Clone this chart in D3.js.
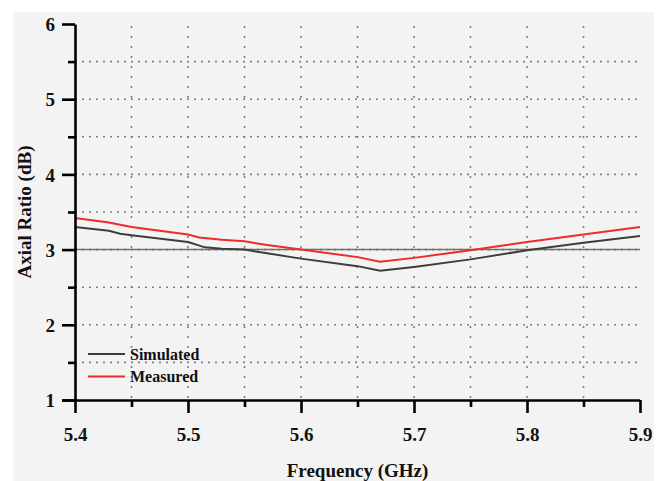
<!DOCTYPE html>
<html><head><meta charset="utf-8">
<script src="https://cdn.jsdelivr.net/npm/d3@7"></script>
<style>body{margin:0;background:#fff}svg{display:block}</style>
</head><body><svg id="c" width="662" height="481"></svg>
<script>
const simFreq = [5.40,5.43,5.44,5.45,5.50,5.515,5.53,5.55,5.57,5.60,5.65,5.67,5.70,5.75,5.80,5.85,5.90];
const simAR   = [3.30,3.25,3.21,3.19,3.10,3.03,3.01,3.00,2.95,2.88,2.78,2.72,2.77,2.87,2.99,3.09,3.18];
const measFreq = [5.40,5.43,5.45,5.50,5.51,5.53,5.55,5.57,5.60,5.65,5.67,5.70,5.75,5.80,5.85,5.90];
const measAR   = [3.42,3.36,3.30,3.20,3.16,3.13,3.11,3.06,3.00,2.90,2.84,2.89,2.99,3.10,3.20,3.30];
const xTicks = [5.4,5.5,5.6,5.7,5.8,5.9];
const xMinor = [5.45,5.55,5.65,5.75,5.85];
const yTicks = [1,2,3,4,5,6];
const yMinor = [1.5,2.5,3.5,4.5,5.5];
const threshold = 3;

const svg = d3.select('#c');
const L=75,R=640,T=24,B=400;
const x = d3.scaleLinear().domain([5.4,5.9]).range([L,R]);
const y = d3.scaleLinear().domain([1,6]).range([B,T]);
const font = '"Liberation Serif","Times New Roman",serif';

svg.append('rect').attr('x',13).attr('y',12).attr('width',641).attr('height',469).attr('fill','#f3f3f3');

const g = svg.append('g');
// grid
const hg = yMinor.concat(yTicks.filter(v=>v>1&&v<6)).sort();
g.selectAll('.hg').data(hg).enter().append('line')
 .attr('x1',L).attr('x2',R).attr('y1',d=>y(d)).attr('y2',d=>y(d))
 .attr('stroke','#808080').attr('stroke-width',1.6).attr('stroke-dasharray','2,5');
const vg = xMinor.concat(xTicks.filter(v=>v>5.4&&v<5.9)).sort();
g.selectAll('.vg').data(vg).enter().append('line')
 .attr('y1',T+2).attr('y2',B).attr('x1',d=>x(d)).attr('x2',d=>x(d))
 .attr('stroke','#808080').attr('stroke-width',1.6).attr('stroke-dasharray','2,8');
// threshold
g.append('line').attr('x1',L).attr('x2',R).attr('y1',y(threshold)).attr('y2',y(threshold))
 .attr('stroke','#707070').attr('stroke-width',1.5);

// curves
const line = d3.line().x(d=>x(d[0])).y(d=>y(d[1]));
g.append('path').datum(simFreq.map((f,i)=>[f,simAR[i]])).attr('d',line)
 .attr('fill','none').attr('stroke','#3d3d3d').attr('stroke-width',2);
g.append('path').datum(measFreq.map((f,i)=>[f,measAR[i]])).attr('d',line)
 .attr('fill','none').attr('stroke','#ee2b2b').attr('stroke-width',2);

// axes
const xa = svg.append('g').attr('transform',`translate(0,${B})`)
 .call(d3.axisBottom(x).tickValues(xTicks).tickFormat(d3.format('.1f')).tickSize(13).tickSizeOuter(0));
const xm = svg.append('g').attr('transform',`translate(0,${B})`)
 .call(d3.axisBottom(x).tickValues(xMinor).tickFormat('').tickSize(7).tickSizeOuter(0));
const ya = svg.append('g').attr('transform',`translate(${L},0)`)
 .call(d3.axisLeft(y).tickValues(yTicks).tickFormat(d3.format('d')).tickSize(13).tickSizeOuter(0));
const ym = svg.append('g').attr('transform',`translate(${L},0)`)
 .call(d3.axisLeft(y).tickValues(yMinor).tickFormat('').tickSize(7).tickSizeOuter(0));
[xa,xm,ya,ym].forEach(a=>{
  a.selectAll('path,line').attr('stroke','#000').attr('stroke-width',2.6);
  a.selectAll('text').attr('font-family',font).attr('font-weight','bold').attr('font-size',19).attr('fill','#111');
});
xm.select('path').remove(); ym.select('path').remove();
xa.select('path').attr('d',`M${L-13},0.5H${R}`);
xa.selectAll('text').attr('dy','0').attr('y',41);
ya.selectAll('text').attr('x',-20).attr('dy','0.35em');

// titles
svg.append('text').attr('x',(L+R)/2).attr('y',477).attr('text-anchor','middle')
 .attr('font-family',font).attr('font-weight','bold').attr('font-size',19).attr('fill','#111').text('Frequency (GHz)');
svg.append('text').attr('transform',`translate(31,${(T+B)/2}) rotate(-90)`).attr('text-anchor','middle')
 .attr('font-family',font).attr('font-weight','bold').attr('font-size',19).attr('fill','#111').text('Axial Ratio (dB)');

// legend
const leg = [{n:'Simulated',c:'#3d3d3d'},{n:'Measured',c:'#ee2b2b'}];
const lg = svg.append('g').selectAll('g').data(leg).enter().append('g')
 .attr('transform',(d,i)=>`translate(88,${354+i*22.5})`);
lg.append('line').attr('x1',0).attr('x2',37).attr('stroke',d=>d.c).attr('stroke-width',2);
lg.append('text').attr('x',42).attr('dy','0.35em').attr('font-family',font).attr('font-weight','bold')
 .attr('font-size',16).attr('fill','#111').text(d=>d.n);
</script></body></html>
